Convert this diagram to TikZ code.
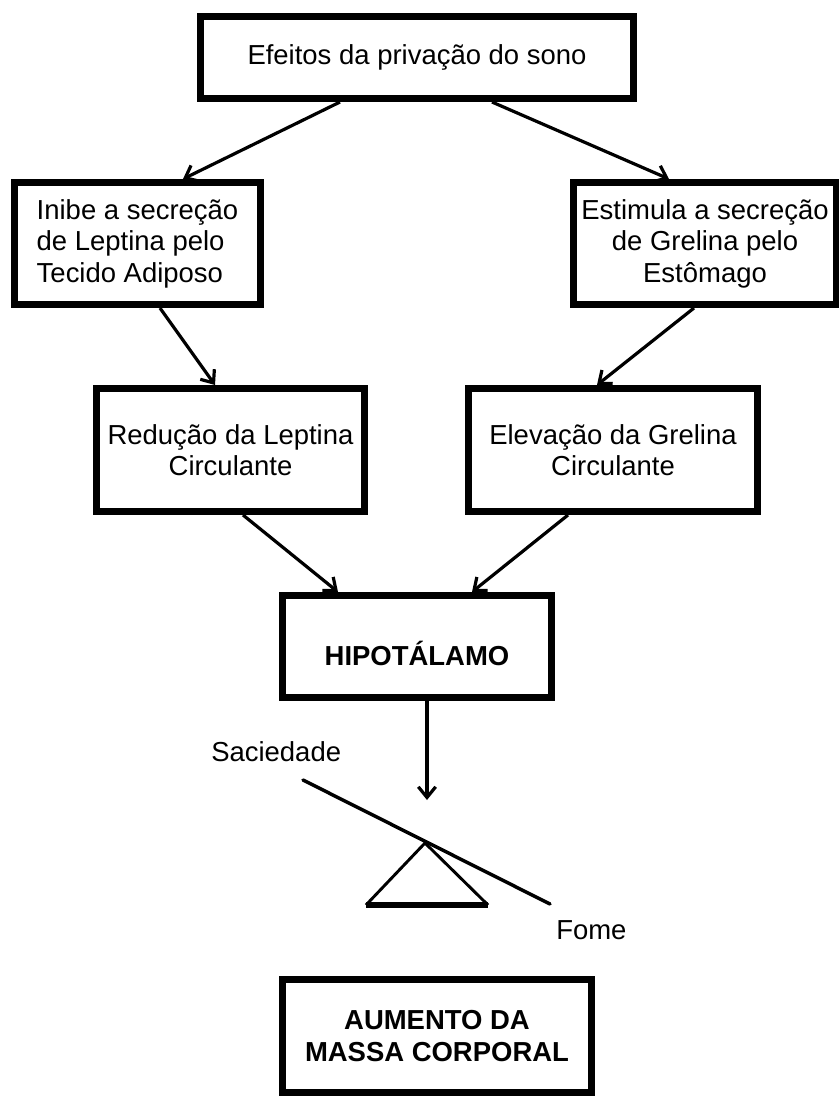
\documentclass[tikz,border=0pt]{standalone}
\usepackage{fontspec}
\setmainfont{Liberation Sans}
\usetikzlibrary{arrows.meta,calc}
\begin{document}
\begin{tikzpicture}[x=0.75pt,y=-0.75pt,
  box/.style={draw,line width=5.25pt,inner sep=0pt,align=center,
    font=\fontsize{20.6}{23.6}\selectfont},
  conn/.style={line width=2.4pt,-{Straight Barb[length=8pt,width=13pt]}},
  lbl/.style={inner sep=0pt,anchor=base west,font=\fontsize{20.6}{23.6}\selectfont},
  seesaw/.style={line width=2.6pt}]
\useasboundingbox (0,0) rectangle (839,1100);

% boxes
\node[box,minimum width=324.75pt,minimum height=61.5pt] (top) at (417,57.5)
  {Efeitos da privação do sono};
\node[box,align=left,minimum width=184.5pt,minimum height=91.5pt] (left) at (137.5,243.5)
  {Inibe a secreção\\de Leptina pelo\\Tecido Adiposo};
\node[box,minimum width=197.25pt,minimum height=91.5pt] (right) at (705,243.5)
  {Estimula a secreção\\de Grelina pelo\\Estômago};
\node[box,minimum width=201pt,minimum height=92.25pt] (midL) at (230.5,450)
  {Redução da Leptina\\Circulante};
\node[box,minimum width=216.75pt,minimum height=92.25pt] (midR) at (613,450)
  {Elevação da Grelina\\Circulante};
\node[box,minimum width=201.75pt,minimum height=76.5pt,text height=27.75pt,text depth=0pt,
  font=\fontsize{20.6}{23.6}\selectfont\bfseries] (hipo) at (417,646.5) {HIPOTÁLAMO};
\node[box,minimum width=231.75pt,minimum height=84.75pt,
  font=\fontsize{20.6}{24}\selectfont\bfseries] (result) at (437,1036)
  {AUMENTO DA\\MASSA CORPORAL};

% connectors
\draw[conn] ($(top.south)+(-77,0)$) -- ($(left.north)+(45.5,0)$);
\draw[conn] ($(top.south)+(75,0)$) -- ($(right.north)+(-36,0)$);
\draw[conn] ($(left.south)+(22.5,0)$) -- ($(midL.north)+(-15.5,0)$);
\draw[conn] ($(right.south)+(-11,0)$) -- ($(midR.north)+(-16,0)$);
\draw[conn] ($(midL.south)+(12.5,0)$) -- ($(hipo.north)+(-79,0)$);
\draw[conn] ($(midR.south)+(-45,0)$) -- ($(hipo.north)+(55,0)$);
\coordinate (down) at (427,800);
\draw[conn] ($(hipo.south)+(10,0)$) -- (down);

% seesaw
\coordinate (beamL) at (303,780);
\coordinate (beamR) at (550,904);
\coordinate (apex) at (425,843);
\coordinate (baseL) at (366,905);
\coordinate (baseR) at (488,905);
\draw[seesaw,line cap=round] (beamL) -- (beamR);
\draw[line width=2.2pt,line join=miter] (baseL) -- (apex) -- (baseR);
\draw[line width=4pt] (baseL) -- (baseR);

% labels
\node[lbl] (sac) at (211,761) {Saciedade};
\node[lbl] (fome) at (556,939) {Fome};
\end{tikzpicture}
\end{document}
